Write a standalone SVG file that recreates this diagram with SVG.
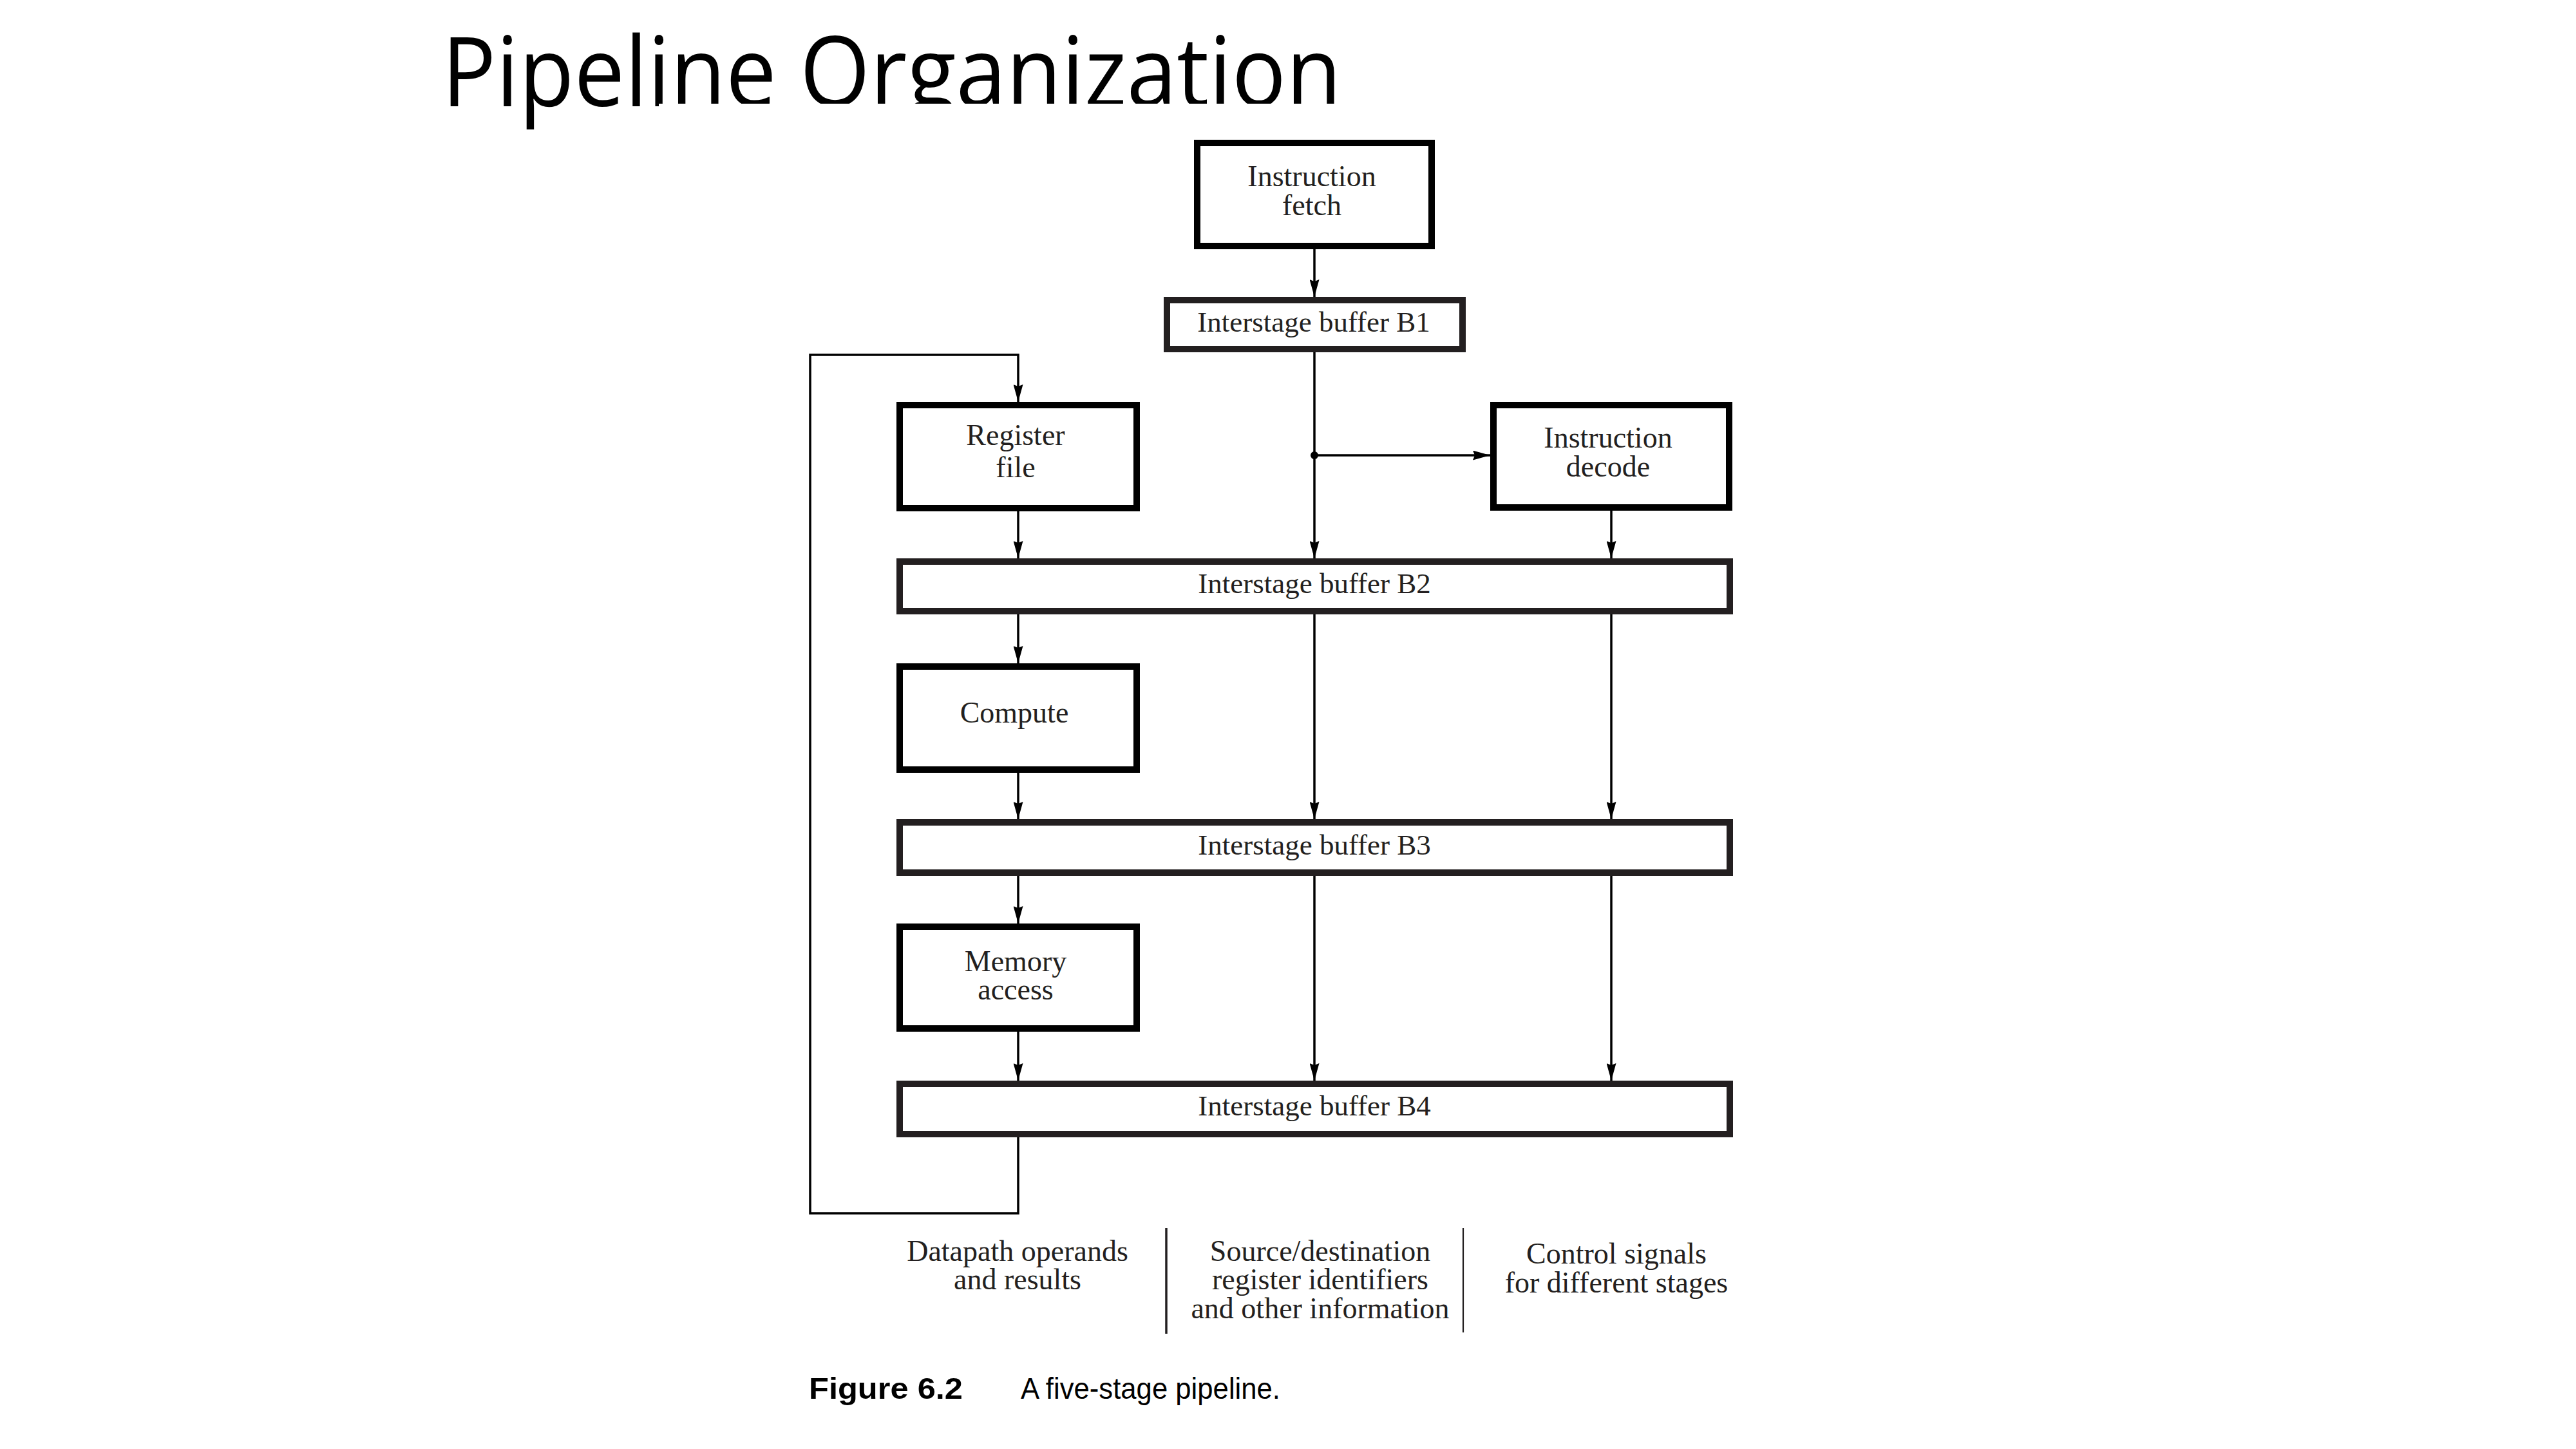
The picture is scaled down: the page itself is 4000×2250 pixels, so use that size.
<svg xmlns="http://www.w3.org/2000/svg" width="4000" height="2250" viewBox="0 0 4000 2250">
<defs>
<style>
.title{font-family:"Open Sans","Noto Sans",sans-serif;font-weight:400;font-size:150px;fill:#000}
.node{fill:#fff;stroke:#000;stroke-width:10}
.buf{fill:#fff;stroke:#231f20;stroke-width:10}
.t{font-family:"Liberation Serif","DejaVu Serif",serif;font-size:46px;fill:#231f20;text-anchor:middle}
.tb{font-family:"Liberation Serif","DejaVu Serif",serif;font-size:45px;fill:#231f20;text-anchor:middle}
.conn{fill:none;stroke:#000;stroke-width:3.5}
.cap{font-family:"Liberation Sans","DejaVu Sans",sans-serif;font-size:47px;fill:#000}
</style>
<marker id="ah" markerUnits="userSpaceOnUse" markerWidth="27" markerHeight="15" refX="27" refY="7.5" orient="auto">
<path d="M0,0 L27,7.5 L0,15 L3,7.5 z" fill="#000"/>
</marker>
</defs>
<rect x="0" y="0" width="4000" height="2250" fill="#fff"/>
<text class="title" x="686" y="165" textLength="1397" lengthAdjust="spacingAndGlyphs">Pipeline Organization</text>
<rect x="1023" y="161" width="2000" height="60" fill="#fff"/>

<g id="connectors">
<line class="conn" x1="2041" y1="387" x2="2041" y2="461" marker-end="url(#ah)"/>
<line class="conn" x1="2041" y1="547" x2="2041" y2="867" marker-end="url(#ah)"/>
<circle cx="2041" cy="707" r="6" fill="#000"/>
<line class="conn" x1="2041" y1="707" x2="2314" y2="707" marker-end="url(#ah)"/>
<polyline class="conn" points="1581,1766 1581,1884 1258,1884 1258,551 1581,551 1581,624" marker-end="url(#ah)"/>
<line class="conn" x1="1581" y1="794" x2="1581" y2="867" marker-end="url(#ah)"/>
<line class="conn" x1="2502" y1="793" x2="2502" y2="867" marker-end="url(#ah)"/>
<line class="conn" x1="1581" y1="954" x2="1581" y2="1030" marker-end="url(#ah)"/>
<line class="conn" x1="2041" y1="954" x2="2041" y2="1272" marker-end="url(#ah)"/>
<line class="conn" x1="2502" y1="954" x2="2502" y2="1272" marker-end="url(#ah)"/>
<line class="conn" x1="1581" y1="1200" x2="1581" y2="1272" marker-end="url(#ah)"/>
<line class="conn" x1="1581" y1="1360" x2="1581" y2="1434" marker-end="url(#ah)"/>
<line class="conn" x1="2041" y1="1360" x2="2041" y2="1678" marker-end="url(#ah)"/>
<line class="conn" x1="2502" y1="1360" x2="2502" y2="1678" marker-end="url(#ah)"/>
<line class="conn" x1="1581" y1="1602" x2="1581" y2="1678" marker-end="url(#ah)"/>
</g>

<g id="instruction-fetch">
<rect class="node" x="1859" y="222" width="364" height="160"/>
<text class="t" x="2037" y="289">Instruction</text>
<text class="t" x="2037" y="334">fetch</text>
</g>
<g id="buffer-b1">
<rect class="buf" x="1812" y="466" width="459" height="76"/>
<text class="tb" x="2040" y="515">Interstage buffer B1</text>
</g>
<g id="register-file">
<rect class="node" x="1397" y="629" width="368" height="160"/>
<text class="t" x="1577" y="691">Register</text>
<text class="t" x="1577" y="741">file</text>
</g>
<g id="instruction-decode">
<rect class="node" x="2319" y="629" width="366" height="159"/>
<text class="t" x="2497" y="695">Instruction</text>
<text class="t" x="2497" y="740">decode</text>
</g>
<g id="buffer-b2">
<rect class="buf" x="1397" y="872" width="1289" height="77"/>
<text class="tb" x="2041" y="921">Interstage buffer B2</text>
</g>
<g id="compute">
<rect class="node" x="1397" y="1035" width="368" height="160"/>
<text class="t" x="1575" y="1122">Compute</text>
</g>
<g id="buffer-b3">
<rect class="buf" x="1397" y="1277" width="1289" height="78"/>
<text class="tb" x="2041" y="1327">Interstage buffer B3</text>
</g>
<g id="memory-access">
<rect class="node" x="1397" y="1439" width="368" height="158"/>
<text class="t" x="1577" y="1508">Memory</text>
<text class="t" x="1577" y="1552">access</text>
</g>
<g id="buffer-b4">
<rect class="buf" x="1397" y="1683" width="1289" height="78"/>
<text class="tb" x="2041" y="1732">Interstage buffer B4</text>
</g>

<g id="legend">
<text class="t" x="1580" y="1958">Datapath operands</text>
<text class="t" x="1580" y="2002">and results</text>
<line x1="1811" y1="1907" x2="1811" y2="2071" stroke="#231f20" stroke-width="3.5"/>
<text class="t" x="2050" y="1958">Source/destination</text>
<text class="t" x="2050" y="2002">register identifiers</text>
<text class="t" x="2050" y="2047">and other information</text>
<line x1="2272" y1="1907" x2="2272" y2="2069" stroke="#231f20" stroke-width="2.2"/>
<text class="t" x="2510" y="1962">Control signals</text>
<text class="t" x="2510" y="2007">for different stages</text>
</g>

<g id="caption">
<text class="cap" x="1256" y="2172" font-weight="bold" textLength="239" lengthAdjust="spacingAndGlyphs">Figure 6.2</text>
<text class="cap" x="1585" y="2172" textLength="403" lengthAdjust="spacingAndGlyphs">A five-stage pipeline.</text>
</g>
</svg>
